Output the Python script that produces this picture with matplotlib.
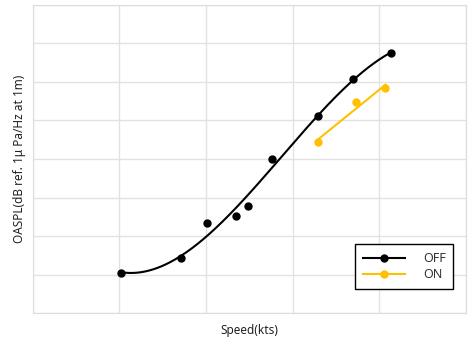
import matplotlib
matplotlib.use('Agg')
import matplotlib.pyplot as plt
import numpy as np

plt.rcParams['font.family'] = ['Noto Sans', 'DejaVu Sans']

# ── DONNÉES ──────────────────────────────────────────────
speed_off = [1.02, 1.71, 2.01, 2.35, 2.48, 2.76, 3.29, 3.70, 4.14]
oaspl_off = [1.05, 1.43, 2.33, 2.52, 2.79, 4.01, 5.11, 6.08, 6.75]
speed_on = [3.29, 3.73, 4.07]
oaspl_on = [4.43, 5.47, 5.83]

# courbes de tendance (polynôme ordre 3 pour OFF, linéaire pour ON)
c_off = np.polyfit(speed_off, oaspl_off, 3)
xs_off = np.linspace(min(speed_off), max(speed_off), 200)
c_on = np.polyfit(speed_on, oaspl_on, 1)
xs_on = np.linspace(min(speed_on), max(speed_on), 50)

fig = plt.figure(figsize=(4.69, 3.42), dpi=100)
ax = fig.add_axes([0.0697, 0.0839, 0.9239, 0.9024])

ax.plot(xs_off, np.polyval(c_off, xs_off), color='black', lw=1.5)
ax.plot(speed_off, oaspl_off, 'o', color='black', ms=5)
ax.plot(xs_on, np.polyval(c_on, xs_on), color='#FFC000', lw=1.5)
ax.plot(speed_on, oaspl_on, 'o', color='#FFC000', ms=5)

ax.set_xlim(0, 5)
ax.set_ylim(0, 8)
ax.set_xticks(np.arange(0, 6))
ax.set_yticks(np.arange(0, 9))
ax.tick_params(length=0, labelbottom=False, labelleft=False)
ax.grid(True, color='#e2e2e2', lw=1)
for s in ax.spines.values():
    s.set_color('#dcdcdc')

ax.set_xlabel('Speed(kts)', fontsize=8.5, color='#222222', labelpad=8,
              fontweight='medium')
ax.set_ylabel('OASPL(dB ref. 1\u03bc Pa/Hz at 1m)', fontsize=8.5,
              color='#222222', labelpad=5, fontweight='medium')

h_off, = ax.plot([], [], '-o', color='black', lw=1.5, ms=5)
h_on, = ax.plot([], [], '-o', color='#FFC000', lw=1.5, ms=5)
leg = ax.legend([h_off, h_on], ['OFF', 'ON'], loc='lower right',
                bbox_to_anchor=(0.985, 0.06), fontsize=9, handlelength=3.4,
                handletextpad=1.4, fancybox=False, framealpha=1,
                borderpad=0.6, labelspacing=0.25)
leg.get_frame().set_edgecolor('black')
leg.get_frame().set_linewidth(1)
for t in leg.get_texts():
    t.set_color('#333333')

plt.savefig('out.png', dpi=100)
plt.close()
